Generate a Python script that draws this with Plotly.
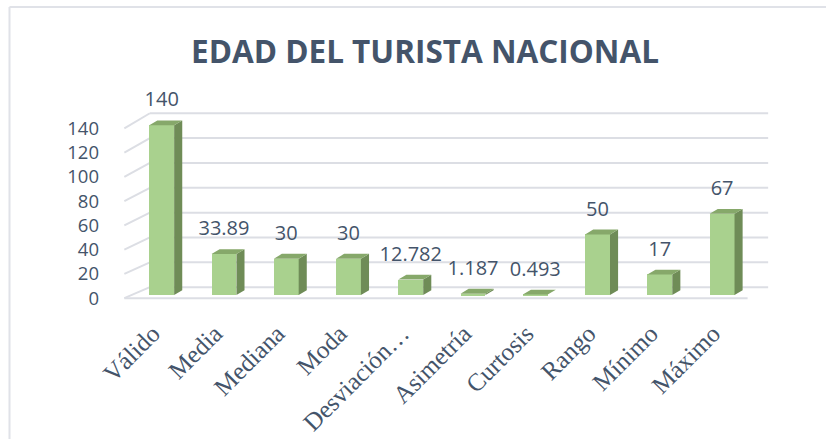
import plotly.graph_objects as go

# ---- data ----
categories = ["Válido", "Media", "Mediana", "Moda", "Desviación…", "Asimetría",
              "Curtosis", "Rango", "Mínimo", "Máximo"]
values = [140, 33.89, 30, 30, 12.782, 1.187, 0.493, 50, 17, 67]
value_labels = ["140", "33.89", "30", "30", "12.782", "1.187", "0.493", "50", "17", "67"]
y_ticks = [0, 20, 40, 60, 80, 100, 120, 140]

# ---- 3D styling constants ----
W = 0.40        # bar front width (category units)
BASE = 2.5      # bar base lift (depth placement)
DX = 0.13       # depth offset x (category units)
DY = 4.0        # depth offset y (value units)
LABEL_LIFT = 11.5  # label anchor above bar top (value units)
GX0, GX1 = -0.19, 9.74   # back-wall gridline extent
FX0, FX1 = -0.60, 9.41   # front edge extent
G_SCALE, G_OFF = 1.024, 9.06

FRONT = "#A9D18E"
SIDE = "#6F8C57"
TOP = "#86A86A"
GRID = "#DCDEE4"
TEXT = "#44546A"

L, R, T, B = 115, 51, 98, 136
PW, PH = 826 - L - R, 439 - T - B

idx = list(range(len(categories)))
fig = go.Figure()

# back wall gridlines + side wall diagonals (below all traces)
shapes = []
for t in y_ticks:
    yb = t * G_SCALE + G_OFF
    shapes.append(dict(type="line", xref="x", yref="y", x0=FX0, y0=t, x1=GX0, y1=yb,
                       line=dict(color=GRID, width=2), layer="below"))
    shapes.append(dict(type="line", xref="x", yref="y", x0=GX0, y0=yb, x1=GX1, y1=yb,
                       line=dict(color=GRID, width=2), layer="below"))
shapes.append(dict(type="line", xref="x", yref="y", x0=FX0, y0=0, x1=FX1, y1=0,
                   line=dict(color=GRID, width=2), layer="below"))

# chart frame
fy = 1 + (T - 7) / PH
fx = (9.5 - L) / PW
shapes.append(dict(type="line", xref="paper", yref="paper", x0=fx, x1=1.2, y0=fy, y1=fy,
                   line=dict(color="#E0E2E8", width=2)))
shapes.append(dict(type="line", xref="paper", yref="paper", x0=fx, x1=fx, y0=fy, y1=-1,
                   line=dict(color="#E0E2E8", width=2)))

# side and top faces
sx, sy, tx, ty = [], [], [], []
for i, v in zip(idx, values):
    r = i + W / 2
    l = i - W / 2
    top = BASE + v
    sx += [r, r + DX, r + DX, r, r, None]
    sy += [BASE, BASE + DY, top + DY, top, BASE, None]
    tx += [l, l + DX, r + DX, r, l, None]
    ty += [top, top + DY, top + DY, top, top, None]

# front faces
fig.add_trace(go.Bar(x=idx, y=values, base=BASE, width=W, marker=dict(color=FRONT, line=dict(width=0)),
                     showlegend=False, hoverinfo="x+y"))
fig.add_trace(go.Scatter(x=sx, y=sy, mode="lines", fill="toself", fillcolor=SIDE,
                         line=dict(width=0, color=SIDE), hoverinfo="skip", showlegend=False))
fig.add_trace(go.Scatter(x=tx, y=ty, mode="lines", fill="toself", fillcolor=TOP,
                         line=dict(width=0, color=TOP), hoverinfo="skip", showlegend=False))

# data labels
fig.add_trace(go.Scatter(x=idx, y=[BASE + v + LABEL_LIFT for v in values],
                         mode="text", text=value_labels, textposition="top center",
                         textfont=dict(family="Open Sans", size=20, color=TEXT),
                         hoverinfo="skip", showlegend=False, cliponaxis=False))

fig.update_layout(
    width=826, height=439,
    margin=dict(l=L, r=R, t=T, b=B, autoexpand=False),
    paper_bgcolor="white", plot_bgcolor="white",
    title=dict(text="<b>EDAD DEL TURISTA NACIONAL</b>", x=0.5145, xanchor="center",
               y=0.8815, yanchor="middle",
               font=dict(family="Open Sans", size=31.5, color=TEXT)),
    xaxis=dict(range=[-0.75, 9.85], tickvals=idx, ticktext=categories, tickangle=-45,
               showgrid=False, zeroline=False, showline=False,
               ticks="outside", ticklen=5, tickcolor="rgba(0,0,0,0)", automargin=False,
               ticklabelshift=-9,
               tickfont=dict(family="Liberation Serif", size=25, color=TEXT)),
    yaxis=dict(range=[-4, 165], tickvals=y_ticks, showgrid=False, zeroline=False,
               showline=False, ticks="", ticklabelstandoff=15, automargin=False,
               tickfont=dict(family="Open Sans", size=18.5, color=TEXT)),
    shapes=shapes,
    bargap=0,
)

fig.write_html("out.html", config={"displayModeBar": False},
               post_script="document.body.style.margin='0';")
